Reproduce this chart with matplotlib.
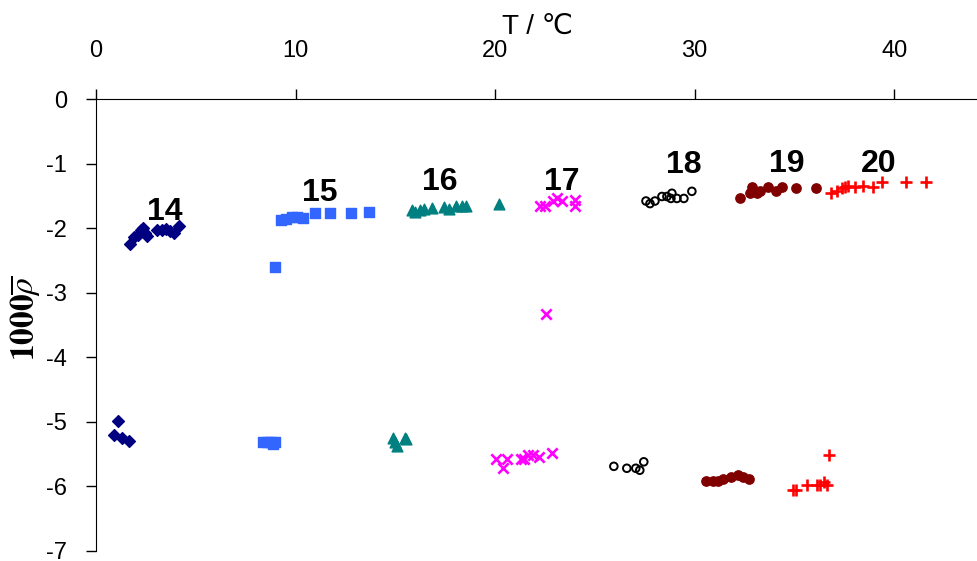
import matplotlib
matplotlib.use("Agg")
import matplotlib.pyplot as plt

# upper / lower branches of each series (T in degC, 1000*rho-bar)
t14_up = [1.70, 1.90, 2.10, 2.25, 2.35, 2.45, 2.55, 3.06, 3.31, 3.51, 3.71, 3.91, 4.16]
r14_up = [-2.25, -2.14, -2.11, -2.03, -2.00, -2.08, -2.12, -2.03, -2.03, -2.02, -2.05, -2.08, -1.97]
t14_lo = [1.10, 0.90, 1.30, 1.65]
r14_lo = [-4.98, -5.20, -5.25, -5.29]

t15_up = [8.97, 9.27, 9.52, 9.82, 10.07, 10.37, 10.97, 11.72, 12.78, 13.68]
r15_up = [-2.60, -1.88, -1.86, -1.82, -1.82, -1.85, -1.77, -1.77, -1.77, -1.75]
t15_lo = [8.37, 8.57, 8.77, 8.97, 8.87]
r15_lo = [-5.31, -5.31, -5.32, -5.31, -5.35]

t16_up = [15.83, 15.98, 16.23, 16.43, 16.83, 17.43, 17.69, 18.04, 18.34, 18.54, 20.19]
r16_up = [-1.72, -1.75, -1.72, -1.71, -1.69, -1.68, -1.71, -1.66, -1.65, -1.65, -1.62]
t16_lo = [14.88, 14.98, 15.08, 15.48, 15.53]
r16_lo = [-5.25, -5.32, -5.37, -5.25, -5.26]

t17_up = [22.24, 22.49, 22.90, 23.10, 23.35, 24.00, 24.00, 22.53]
r17_up = [-1.65, -1.65, -1.58, -1.54, -1.58, -1.57, -1.66, -3.33]
t17_lo = [20.04, 20.39, 20.59, 21.29, 21.44, 21.64, 21.89, 22.19, 22.85]
r17_lo = [-5.58, -5.71, -5.58, -5.58, -5.57, -5.51, -5.51, -5.54, -5.48]

t18_up = [27.56, 27.76, 28.01, 28.36, 28.61, 28.86, 28.81, 29.11, 29.46, 29.86]
r18_up = [-1.58, -1.62, -1.58, -1.51, -1.51, -1.46, -1.54, -1.54, -1.54, -1.43]
t18_lo = [25.95, 26.60, 27.05, 27.25, 27.45]
r18_lo = [-5.69, -5.72, -5.72, -5.75, -5.62]

t19_up = [32.26, 32.77, 32.87, 33.12, 33.27, 33.67, 34.07, 34.37, 35.07, 36.07]
r19_up = [-1.54, -1.45, -1.37, -1.45, -1.42, -1.37, -1.42, -1.37, -1.38, -1.38]
t19_lo = [30.56, 30.91, 31.16, 31.41, 31.81, 32.16, 32.41, 32.72]
r19_lo = [-5.92, -5.92, -5.92, -5.89, -5.86, -5.83, -5.86, -5.89]

t20_up = [36.82, 37.12, 37.37, 37.53, 37.68, 38.03, 38.43, 38.93, 39.38, 40.58, 41.58]
r20_up = [-1.45, -1.42, -1.38, -1.37, -1.34, -1.37, -1.34, -1.37, -1.29, -1.29, -1.28]
t20_lo = [34.92, 35.07, 35.62, 36.12, 36.27, 36.47, 36.62, 36.72]
r20_lo = [-6.06, -6.06, -5.98, -5.98, -5.98, -5.94, -5.98, -5.51]

labels = ['14', '15', '16', '17', '18', '19', '20']
label_t = [3.46, 11.22, 17.23, 23.35, 29.46, 34.62, 39.23]
label_r = [-1.75, -1.45, -1.29, -1.29, -1.02, -1.00, -1.00]

plt.rcParams['font.family'] = ['Liberation Sans', 'DejaVu Sans']
plt.rcParams['axes.unicode_minus'] = False
plt.rcParams['mathtext.fontset'] = 'stix'

fig = plt.figure(figsize=(9.78, 5.61), dpi=100)
ax = fig.add_axes([0.0982, 0.018, 0.9018, 0.8055])

series = [
    (t14_up + t14_lo, r14_up + r14_lo, dict(marker='D', color='#000080', s=36)),
    (t15_up + t15_lo, r15_up + r15_lo, dict(marker='s', color='#3366FF', s=42)),
    (t16_up + t16_lo, r16_up + r16_lo, dict(marker='^', color='#008080', s=60)),
    (t17_up + t17_lo, r17_up + r17_lo, dict(marker='x', color='#FF00FF', s=55, linewidths=1.9)),
    (t18_up + t18_lo, r18_up + r18_lo, dict(marker='o', facecolors='none', edgecolors='black', s=30, linewidths=1.4)),
    (t19_up + t19_lo, r19_up + r19_lo, dict(marker='o', color='#800000', s=45)),
    (t20_up + t20_lo, r20_up + r20_lo, dict(marker='+', color='#FF0000', s=65, linewidths=1.9)),
]
for t, r, kw in series:
    ax.scatter(t, r, zorder=3, **kw)

for lab, x, y in zip(labels, label_t, label_r):
    ax.text(x, y, lab, ha='center', va='center', fontsize=23, fontweight='bold')

ax.set_xlim(0, 44.2)
ax.set_ylim(-7, 0)
ax.set_xticks([0, 10, 20, 30, 40])
ax.set_yticks(range(-7, 1))
ax.xaxis.tick_top()
ax.xaxis.set_label_position('top')
ax.tick_params(axis='x', direction='out', length=7, width=1, pad=20, labelsize=17)
ax.tick_params(axis='y', direction='out', length=7, width=1, pad=14, labelsize=17)
for side in ('right', 'bottom'):
    ax.spines[side].set_visible(False)

ax.set_xlabel('T / \u2103', fontsize=20, labelpad=4)
ax.set_ylabel(r'$\mathbf{1000}\overline{\rho}$', fontsize=24)
ax.yaxis.set_label_coords(-0.06, 0.515)

fig.savefig('out.png', dpi=100)
